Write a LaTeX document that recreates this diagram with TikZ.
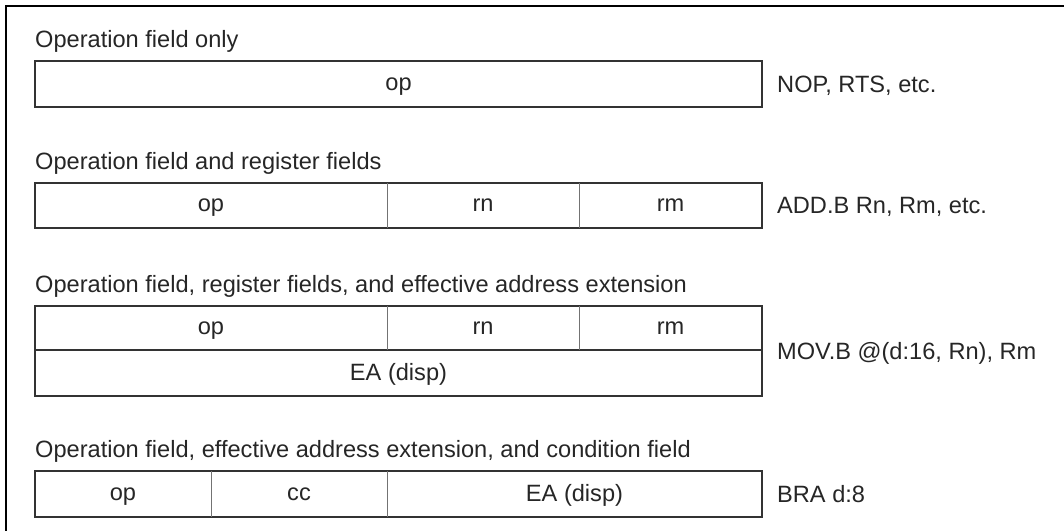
\documentclass[tikz,border=0pt]{standalone}
\usepackage{fontspec}
\setmainfont{Liberation Sans}
\begin{document}
\begin{tikzpicture}[x=1pt, y=-1pt, font=\fontsize{23.6}{28}\selectfont,
    outline/.style={draw=black!80, line width=1.4pt},
    divider/.style={draw=black!55, line width=0.9pt},
    title/.style={anchor=base west, inner sep=0pt, text=black!85},
    field/.style={anchor=base, inner sep=0pt, text=black!85},
    example/.style={anchor=base west, inner sep=0pt, text=black!85}]
  \useasboundingbox (0,0) rectangle (1064,530);
  \draw[line width=2.4pt] (6,532) -- (6,6) -- (1066,6);

  % operation field only
  \node[title] (t1) at (35,47) {Operation field only};
  \draw[outline] (35,61) rectangle (762,107);
  \node[field] (op1) at (398.5,90) {op};
  \node[example] (ex1) at (777,92) {NOP, RTS, etc.};

  % operation field and register fields
  \node[title] (t2) at (35,169) {Operation field and register fields};
  \draw[outline] (35,183) rectangle (762,228);
  \draw[divider] (387,183) -- (387,228);
  \draw[divider] (579,183) -- (579,228);
  \node[field] (op2) at (211,211) {op};
  \node[field] (rn2) at (483,211) {rn};
  \node[field] (rm2) at (670.5,211) {rm};
  \node[example] (ex2) at (777,213.5) {ADD.B Rn, Rm, etc.};

  % operation field, register fields, EA extension
  \node[title] (t3) at (35,292) {Operation field, register fields, and effective address extension};
  \draw[outline] (35,306) rectangle (762,396);
  \draw[outline] (35,350) -- (762,350);
  \draw[divider] (387,306) -- (387,350);
  \draw[divider] (579,306) -- (579,350);
  \node[field] (op3) at (211,334) {op};
  \node[field] (rn3) at (483,334) {rn};
  \node[field] (rm3) at (670.5,334) {rm};
  \node[field] (ea3) at (398.5,380) {EA (disp)};
  \node[example] (ex3) at (777,359) {MOV.B @(d:16, Rn), Rm};

  % operation field, EA extension, condition field
  \node[title] (t4) at (35,457) {Operation field, effective address extension, and condition field};
  \draw[outline] (35,471) rectangle (762,517);
  \draw[divider] (211,471) -- (211,517);
  \draw[divider] (387,471) -- (387,517);
  \node[field] (op4) at (123,500) {op};
  \node[field] (cc4) at (299,500) {cc};
  \node[field] (ea4) at (574.5,501) {EA (disp)};
  \node[example] (ex4) at (777,502) {BRA d:8};
\end{tikzpicture}
\end{document}
